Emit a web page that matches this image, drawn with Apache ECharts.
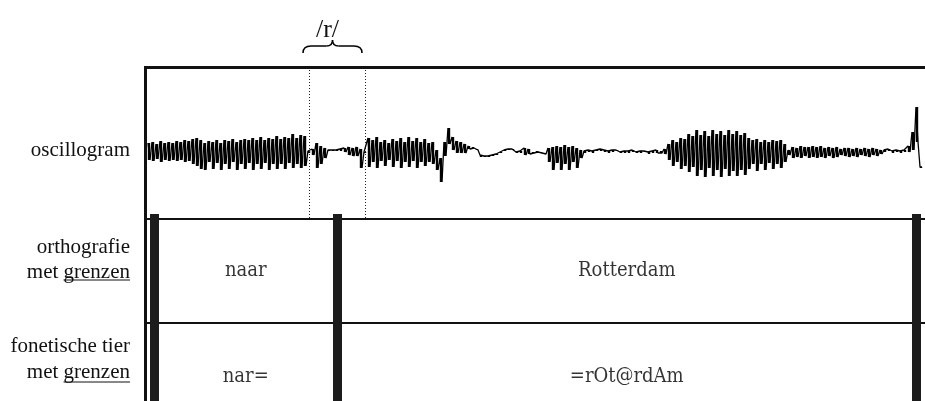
<!DOCTYPE html>
<html lang="nl">
  <head>
    <meta charset="utf-8" />
  </head>
  <body style="margin: 0; background: #fff">
    <div id="container" style="width: 925px; height: 401px"></div>

    <script src="https://cdn.jsdelivr.net/npm/echarts@6/dist/echarts.min.js"></script>
    <script>
      // oscillogram envelope, one pair per 4 px step (top / bottom of each stroke)
      var step = 4;
      var upper = [
        9, 10, 8, 11, 9, 10, 9, 11, 10, 12, 11, 13, 14, 12,
        9, 11, 10, 12, 9, 12, 11, 13, 10, 12, 13, 12, 14, 12, 15, 12, 14, 13, 16, 13, 15, 14, 18, 14, 17, 16,
        1, 3, 9, 6, 4, 2, 2, 2, 3, 4, 5, 4, 5, 3, 0,
        14, 12, 15, 10, 12, 9, 13, 11, 14, 10, 15, 11, 14, 10, 13, 9, 10, 2, -6, 10, 24, 15, 11, 10, 8, 6, 5, 3,
        -3, -4, -4, -3, -2, 0, 2, 3, 3, 0, 1, 4, 3, 0, 1, 0, -1,
        4, 5, 6, 5, 7, 5, 6, 4, 2,
        1, 2, 1, 2, 3, 2, 1, 2, 2, 0, 1, 1, 2, 0, 1, 1, 0, 1, 2, 1, 3,
        8, 12, 10, 14, 13,
        18, 16, 22, 17, 21, 16, 22, 18, 21, 17, 22, 18, 21, 17, 19,
        14, 12, 13, 10, 12, 10, 12, 11, 12, 8, 2,
        5, 4, 6, 5, 5, 6, 5, 6, 4, 5, 4, 5, 3,
        4, 4, 3, 4, 3, 4, 3, 4, 3, 2,
        2, 3, 1, 2, 1, 2, 6, 20, 45, -15
      ];
      var lower = [
        -8, -9, -7, -10, -8, -9, -8, -9, -8, -10, -9, -12, -14, -17,
        -18, -10, -17, -11, -18, -12, -17, -10, -18, -12, -17, -11, -18, -12, -17, -11, -18, -12, -17, -12, -17, -11, -16, -12, -16, -14,
        -1, -3, -16, -12, -6, 1, 1, 1, 1, 0, -3, -4, -4, -16, -1,
        -15, -10, -16, -9, -14, -8, -15, -9, -16, -10, -15, -9, -16, -10, -14, -10, -12, -18, -30, -4, 8, 2, -1, -1, -1, 3, 4, 2,
        -5, -5, -5, -4, -3, -1, 1, 2, 2, -1, -1, -3, -2, -1, 0, -1, -2,
        -10, -18, -11, -18, -12, -18, -10, -16, -6,
        -1, 0, -1, 1, 1, 0, -1, 0, 1, -1, -1, -1, 0, -1, -1, 0, -2, -1, -1, -1, -2,
        -8, -14, -10, -17, -14,
        -20, -15, -24, -18, -25, -16, -24, -18, -25, -17, -24, -19, -24, -18, -23,
        -17, -12, -19, -12, -18, -11, -17, -12, -16, -10, -3,
        -6, -5, -6, -4, -6, -5, -6, -5, -6, -4, -6, -5, -3,
        -4, -5, -4, -5, -3, -4, -5, -3, -4, -2,
        0, 1, -1, 0, -1, 0, 0, 2, 10, -15
      ];

      // segment of the /r/ and the tier boundaries (px offset from the frame)
      var rSegment = [162, 218];
      var boundaries = [7, 190.5, 769];
      var tierLines = [5, 109];
      var orthoTier = ["naar", "Rotterdam"];
      var phoneTier = ["nar=", "=rOt@rdAm"];
      var rowLabels = [
        { text: "oscillogram", y: 150, underline: false },
        { text: "orthografie", y: 247, underline: false },
        { text: "met grenzen", y: 272, underline: true, uy: 280 },
        { text: "fonetische tier", y: 346, underline: false },
        { text: "met grenzen", y: 372, underline: true, uy: 382 }
      ];

      var wave = [];
      var strokes = [];
      for (var i = 0; i < upper.length; i++) {
        wave.push([i * step + 1, upper[i]]);
        wave.push([i * step + 3, lower[i]]);
        strokes.push([i * step + 2, lower[i], upper[i]]);
      }

      var tierText = [];
      for (var k = 0; k < orthoTier.length; k++) {
        var mid = (boundaries[k] + boundaries[k + 1]) / 2;
        tierText.push({ name: orthoTier[k], value: [mid, 57] });
        tierText.push({ name: phoneTier[k], value: [mid, 163] });
      }

      var labelFont = '21px "Liberation Serif", "Times New Roman", serif';
      var ctx = document.createElement("canvas").getContext("2d");
      ctx.font = labelFont;
      var grenzenW = ctx.measureText("grenzen").width;

      var graphics = [
        { type: "rect", shape: { x: 144, y: 66, width: 781, height: 3 }, style: { fill: "#111" } },
        { type: "rect", shape: { x: 144, y: 66, width: 3, height: 335 }, style: { fill: "#111" } }
      ];
      rowLabels.forEach(function (r) {
        graphics.push({
          type: "text",
          x: 130,
          y: r.y,
          style: { text: r.text, font: labelFont, fill: "#111", align: "right", verticalAlign: "middle" }
        });
        if (r.underline) {
          graphics.push({
            type: "line",
            shape: { x1: 130 - grenzenW, y1: r.uy, x2: 130, y2: r.uy },
            style: { stroke: "#111", lineWidth: 1 }
          });
        }
      });

      var dom = document.getElementById("container");
      var myChart = echarts.init(dom, null, { renderer: "canvas" });

      var option = {
        animation: false,
        backgroundColor: "#fff",
        grid: [
          { left: 147, right: 0, top: 68, height: 150 },
          { left: 147, right: 0, top: 214, bottom: 0 }
        ],
        xAxis: [
          { type: "value", gridIndex: 0, min: 0, max: 778, show: false },
          { type: "value", gridIndex: 1, min: 0, max: 778, show: false }
        ],
        yAxis: [
          { type: "value", gridIndex: 0, min: -66, max: 84, show: false },
          { type: "value", gridIndex: 1, min: 0, max: 187, inverse: true, show: false }
        ],
        series: [
          {
            type: "line",
            xAxisIndex: 0,
            yAxisIndex: 0,
            data: wave,
            showSymbol: false,
            lineStyle: { color: "#000", width: 1.3 },
            markLine: {
              silent: true,
              symbol: "none",
              label: { show: false },
              lineStyle: { color: "#222", type: [1, 2], width: 1 },
              data: rSegment.map(function (v) { return { xAxis: v }; })
            }
          },
          {
            // vertical strokes of the oscillogram
            type: "custom",
            xAxisIndex: 0,
            yAxisIndex: 0,
            data: strokes,
            renderItem: function (params, api) {
              var top = api.coord([api.value(0), api.value(2)]);
              var bot = api.coord([api.value(0), api.value(1)]);
              return {
                type: "rect",
                shape: { x: top[0] - 1.2, y: top[1], width: 2.4, height: Math.max(1, bot[1] - top[1]) },
                style: { fill: "#000" }
              };
            }
          },
          {
            type: "scatter",
            xAxisIndex: 1,
            yAxisIndex: 1,
            symbolSize: 0,
            data: tierText,
            label: {
              show: true,
              position: "inside",
              formatter: "{b}",
              color: "#000",
              fontFamily: '"DejaVu Serif Condensed", "DejaVu Serif", serif',
              fontSize: 20
            },
            markLine: {
              silent: true,
              symbol: "none",
              label: { show: false },
              lineStyle: { color: "#111", type: "solid", width: 2 },
              data: tierLines.map(function (v) { return { yAxis: v }; })
            }
          },
          {
            type: "line",
            xAxisIndex: 1,
            yAxisIndex: 1,
            data: [],
            markLine: {
              silent: true,
              symbol: "none",
              label: { show: false },
              lineStyle: { color: "#1c1c1c", type: "solid", width: 9 },
              data: boundaries.map(function (v) { return { xAxis: v }; })
            }
          }
        ],
        graphic: graphics
      };

      myChart.setOption(option);

      // brace and /r/ above the segment
      var p0 = myChart.convertToPixel({ xAxisIndex: 0 }, rSegment[0]) - 6;
      var p1 = myChart.convertToPixel({ xAxisIndex: 0 }, rSegment[1]) - 3;
      var c = (p0 + p1) / 2;
      var braceStyle = { stroke: "#000", lineWidth: 1.5, fill: null };
      graphics.push(
        { type: "bezierCurve", shape: { x1: p0, y1: 53, cpx1: p0, cpy1: 46, x2: p0 + 8, y2: 46 }, style: braceStyle },
        { type: "line", shape: { x1: p0 + 8, y1: 46, x2: c - 6, y2: 46 }, style: braceStyle },
        { type: "bezierCurve", shape: { x1: c - 6, y1: 46, cpx1: c, cpy1: 46, x2: c, y2: 40 }, style: braceStyle },
        { type: "bezierCurve", shape: { x1: c, y1: 40, cpx1: c, cpy1: 46, x2: c + 6, y2: 46 }, style: braceStyle },
        { type: "line", shape: { x1: c + 6, y1: 46, x2: p1 - 8, y2: 46 }, style: braceStyle },
        { type: "bezierCurve", shape: { x1: p1 - 8, y1: 46, cpx1: p1, cpy1: 46, x2: p1, y2: 53 }, style: braceStyle },
        {
          type: "text",
          x: c - 5,
          y: 30,
          style: { text: "/r/", font: '26px "Liberation Serif", serif', fill: "#111", align: "center", verticalAlign: "middle" }
        }
      );
      myChart.setOption({ graphic: graphics });
    </script>
  </body>
</html>
